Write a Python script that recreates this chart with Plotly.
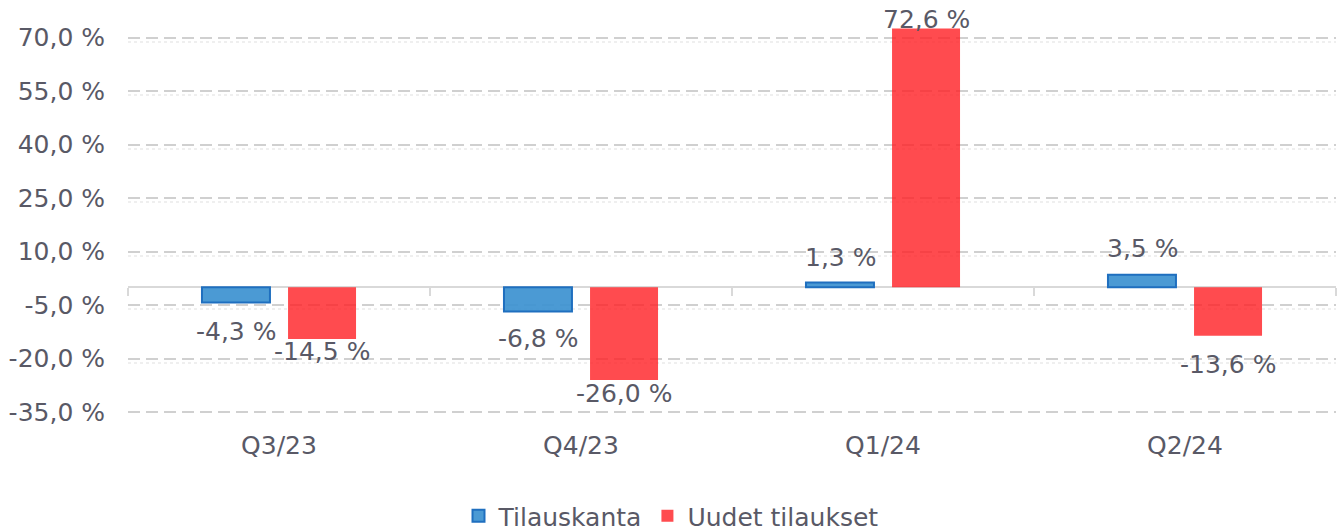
import plotly.graph_objects as go

categories = ["Q3/23", "Q4/23", "Q1/24", "Q2/24"]
tilauskanta = [-4.3, -6.8, 1.3, 3.5]
uudet_tilaukset = [-14.5, -26.0, 72.6, -13.6]
series_names = ["Tilauskanta", "Uudet tilaukset"]
y_ticks = [-35, -20, -5, 10, 25, 40, 55, 70]

# label placement (pixel offsets from the bar end, as in the original)
label_shift_blue = [-29, -27, 25, 26]
label_shift_red = [-13, -14, 9, -29]

FONT = "Verdana, DejaVu Sans, sans-serif"
TXT = "#595966"
FS = 25
SLOT = 43  # half of a bar slot in px
SHADOW = 1.2  # faint texture line below each gridline (axis units)
Y_MIN, Y_MAX = -36.4, 73


def fmt(v):
    return ("%.1f %%" % v).replace(".", ",")


fig = go.Figure()
fig.add_trace(go.Bar(
    x=categories, y=tilauskanta, name=series_names[0],
    marker=dict(color="rgba(60,145,208,0.92)", line=dict(color="#1f6fbf", width=2)),
))
fig.add_trace(go.Bar(
    x=categories, y=uudet_tilaukset, name=series_names[1],
    marker=dict(color="rgba(255,30,35,0.8)", line=dict(width=0)),
))

# category boundary ticks on the zero line
fig.add_trace(go.Scatter(x=[], y=[], xaxis="x2", showlegend=False))

annotations = []
for vals, shifts, xs in ((tilauskanta, label_shift_blue, -SLOT),
                         (uudet_tilaukset, label_shift_red, SLOT)):
    for c, v, s in zip(categories, vals, shifts):
        annotations.append(dict(
            x=c, y=v, xref="x", yref="y", text=fmt(v), showarrow=False,
            xshift=xs, yshift=s, yanchor="middle", xanchor="center",
            font=dict(family=FONT, size=FS, color=TXT),
        ))

fig.update_layout(
    width=1342, height=531,
    margin=dict(l=128, r=6, t=27, b=114, autoexpand=False),
    paper_bgcolor="white", plot_bgcolor="white",
    barmode="group", bargap=0.43, bargroupgap=0.21,
    font=dict(family=FONT, size=FS, color=TXT),
    showlegend=True,
    annotations=annotations,
    legend=dict(orientation="h", x=0.5, xanchor="center", xref="container",
                y=(531 - 516) / 531, yanchor="middle", yref="container",
                font=dict(family=FONT, size=FS, color=TXT), itemsizing="constant",
                traceorder="normal", itemwidth=30),
    xaxis=dict(showgrid=False, showline=False, ticks="", ticklabelstandoff=11,
               automargin=False,
               tickfont=dict(family=FONT, size=FS, color=TXT)),
    yaxis=dict(range=[Y_MIN, Y_MAX], tickmode="array", tickvals=y_ticks,
               ticktext=[fmt(v) for v in y_ticks],
               showgrid=True, gridcolor="#d0d0d0", gridwidth=2, griddash="12px,6px",
               zeroline=True, zerolinecolor="#d9d9d9", zerolinewidth=2,
               showline=False, ticklabelstandoff=22, automargin=False,
               minor=dict(tickmode="array", tickvals=[v - SHADOW for v in y_ticks],
                          showgrid=True, gridcolor="#efefef", gridwidth=2,
                          griddash="dot", ticks=""),
               tickfont=dict(family=FONT, size=FS, color=TXT)),
    xaxis2=dict(overlaying="x", anchor="free", position=-Y_MIN / (Y_MAX - Y_MIN),
                range=[-0.5, 3.5],
                tickmode="array", tickvals=[-0.5, 0.5, 1.5, 2.5, 3.5], ticks="outside",
                ticklen=8, tickwidth=2, tickcolor="#d9d9d9", showticklabels=False,
                showgrid=False, showline=False, zeroline=False, automargin=False),
)
fig.update_xaxes(range=[-0.5, 3.5], selector=dict(anchor="y"))

fig.write_html("out.html", config={"displayModeBar": False},
               post_script="document.body.style.margin='0';document.body.style.overflow='hidden';")
